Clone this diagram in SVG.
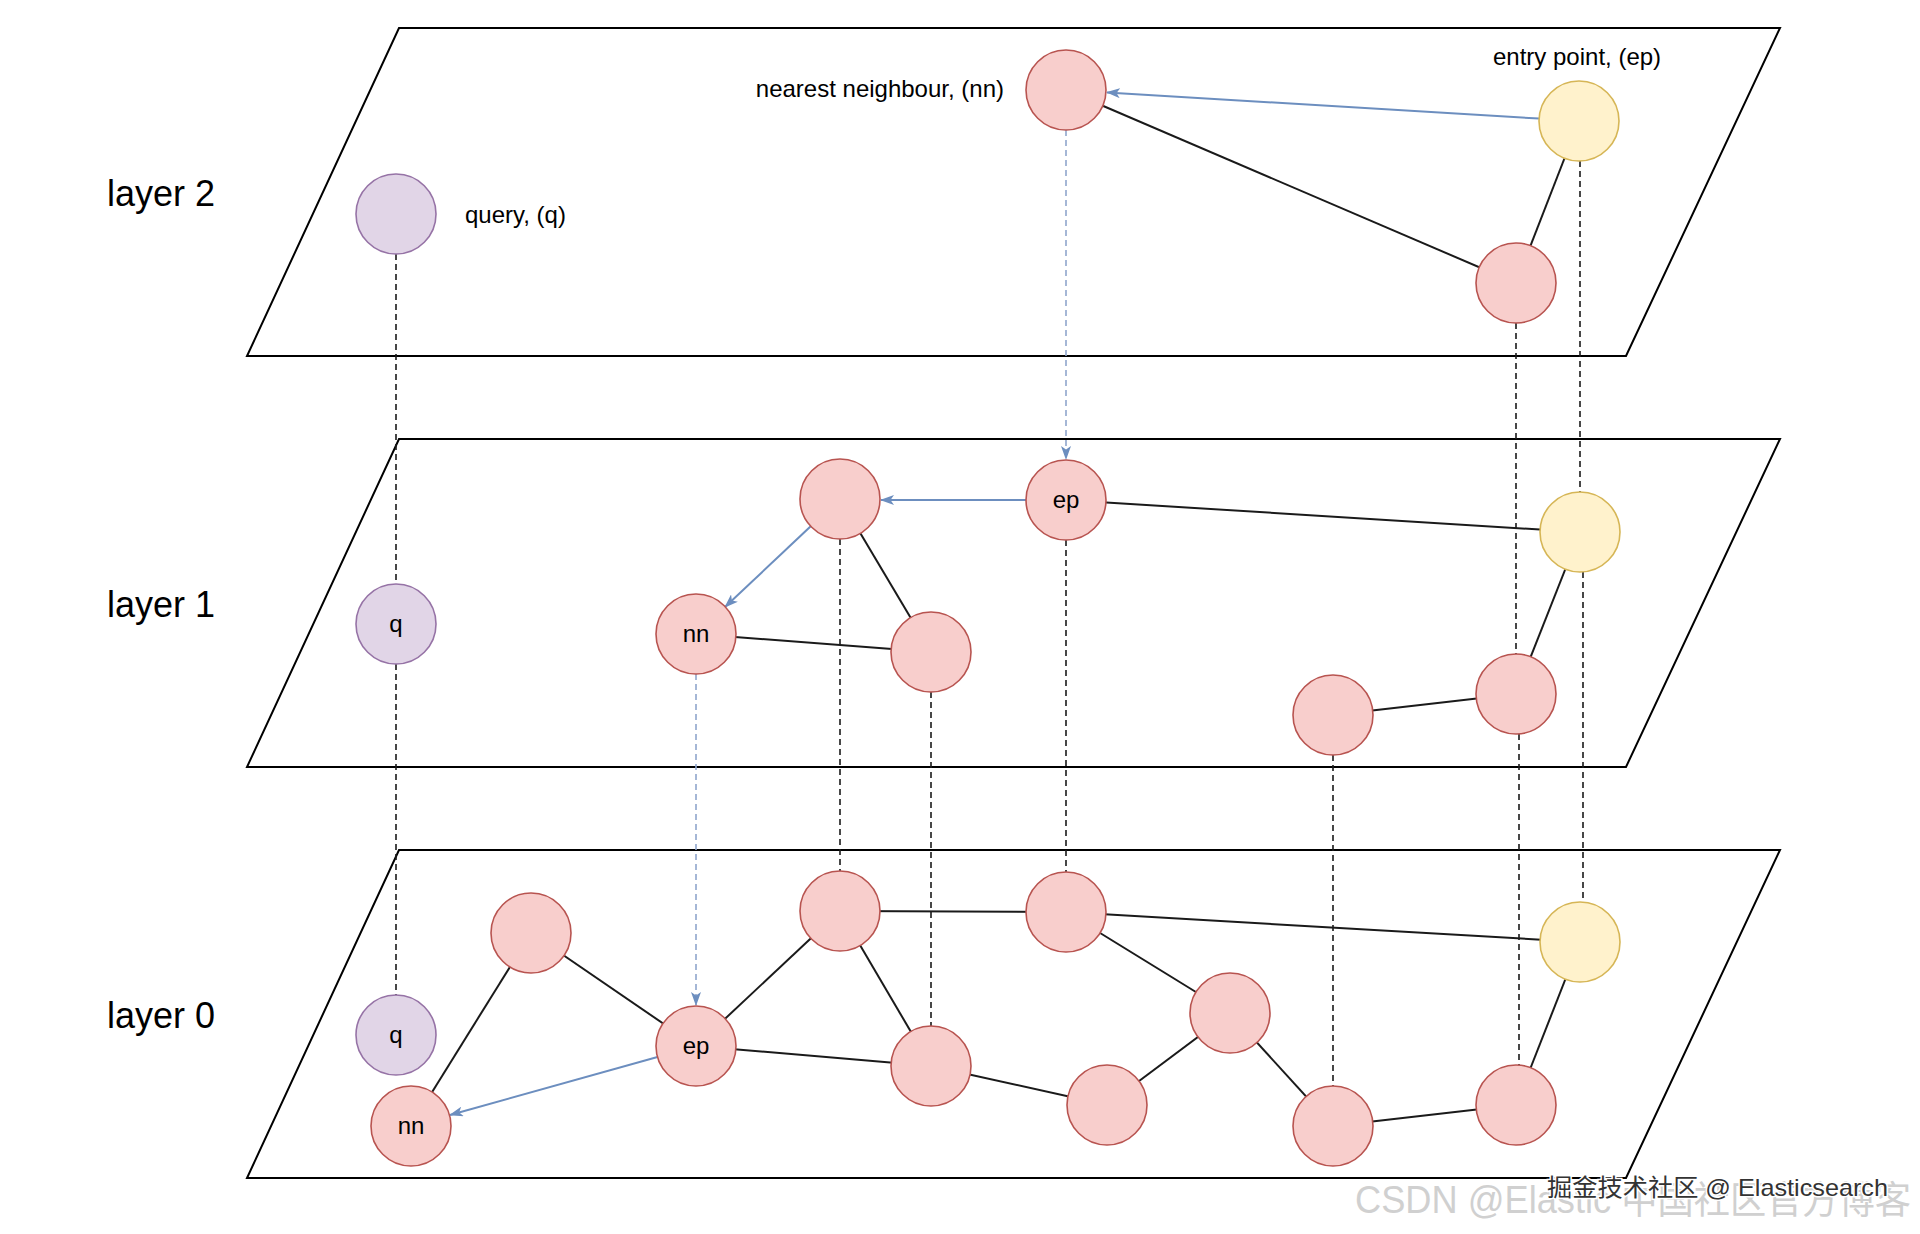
<svg xmlns="http://www.w3.org/2000/svg" width="1920" height="1234" viewBox="0 0 1920 1234">
<style>
.plane{fill:#ffffff;stroke:#000000;stroke-width:2}
.edge{stroke:#1a1a1a;stroke-width:2;fill:none}
.dash{stroke:#1a1a1a;stroke-width:1.6;stroke-dasharray:6 4;fill:none}
.ldash{stroke:#8fa6cc;stroke-width:1.6;stroke-dasharray:6 4;fill:none}
.arr{stroke:#6c8ebf;stroke-width:2;fill:none}
.red{fill:#f8cecc;stroke:#b85450;stroke-width:1.6}
.yel{fill:#fff2cc;stroke:#d6b656;stroke-width:1.6}
.pur{fill:#e1d5e7;stroke:#9673a6;stroke-width:1.6}
.lbl{font-family:"Liberation Sans",Arial,sans-serif;font-size:24px;fill:#000}
.nl{font-family:"Liberation Sans",Arial,sans-serif;font-size:24px;fill:#000;text-anchor:middle}
.lay{font-family:"Liberation Sans",Arial,sans-serif;font-size:36px;fill:#000}
</style>
<defs>
<marker id="ah" viewBox="0 0 14 10" refX="13" refY="5" markerWidth="14" markerHeight="10" markerUnits="userSpaceOnUse" orient="auto">
<path d="M0,0 L14,5 L0,10 L3.5,5 z" fill="#6c8ebf"/>
</marker>
</defs>
<rect width="1920" height="1234" fill="#ffffff"/>
<g id="planes">
<polygon id="plane2" class="plane" points="399,28 1780,28 1626,356 247,356"/>
<polygon id="plane1" class="plane" points="399,439 1780,439 1626,767 247,767"/>
<polygon id="plane0" class="plane" points="399,850 1780,850 1626,1178 247,1178"/>
</g>
<g id="layer-labels">
<text class="lay" x="107" y="206">layer 2</text>
<text class="lay" x="107" y="617">layer 1</text>
<text class="lay" x="107" y="1028">layer 0</text>
</g>
<g id="connectors">
<line class="dash" x1="396" y1="214" x2="396" y2="1035"/>
<line class="dash" x1="1516" y1="283" x2="1516" y2="694"/>
<line class="dash" x1="1519" y1="694" x2="1519" y2="1105"/>
<line class="dash" x1="1580" y1="121" x2="1580" y2="532"/>
<line class="dash" x1="1583" y1="572" x2="1583" y2="942"/>
<line class="dash" x1="840" y1="499" x2="840" y2="911"/>
<line class="dash" x1="931" y1="652" x2="931" y2="1066"/>
<line class="dash" x1="1066" y1="500" x2="1066" y2="912"/>
<line class="dash" x1="1333" y1="715" x2="1333" y2="1126"/>
<line class="ldash" x1="1066" y1="130" x2="1066" y2="459" marker-end="url(#ah)"/>
<line class="ldash" x1="696" y1="674" x2="696" y2="1005" marker-end="url(#ah)"/>
<line class="edge" x1="1066" y1="90" x2="1516" y2="283"/>
<line class="edge" x1="1579" y1="121" x2="1516" y2="283"/>
<line class="arr" x1="1539" y1="118.6" x2="1107" y2="92.4" marker-end="url(#ah)"/>
<line class="edge" x1="840" y1="499" x2="931" y2="652"/>
<line class="edge" x1="696" y1="634" x2="931" y2="652"/>
<line class="edge" x1="1066" y1="500" x2="1580" y2="532"/>
<line class="edge" x1="1580" y1="532" x2="1516" y2="694"/>
<line class="edge" x1="1333" y1="715" x2="1516" y2="694"/>
<line class="arr" x1="1026" y1="500" x2="881" y2="500" marker-end="url(#ah)"/>
<line class="arr" x1="811" y1="526" x2="725" y2="607" marker-end="url(#ah)"/>
<line class="edge" x1="531" y1="933" x2="411" y2="1126"/>
<line class="edge" x1="531" y1="933" x2="696" y2="1046"/>
<line class="edge" x1="696" y1="1046" x2="840" y2="911"/>
<line class="edge" x1="840" y1="911" x2="931" y2="1066"/>
<line class="edge" x1="696" y1="1046" x2="931" y2="1066"/>
<line class="edge" x1="840" y1="911" x2="1066" y2="912"/>
<line class="edge" x1="1066" y1="912" x2="1580" y2="942"/>
<line class="edge" x1="1066" y1="912" x2="1230" y2="1013"/>
<line class="edge" x1="931" y1="1066" x2="1107" y2="1105"/>
<line class="edge" x1="1107" y1="1105" x2="1230" y2="1013"/>
<line class="edge" x1="1230" y1="1013" x2="1333" y2="1126"/>
<line class="edge" x1="1333" y1="1126" x2="1516" y2="1105"/>
<line class="edge" x1="1580" y1="942" x2="1516" y2="1105"/>
<line class="arr" x1="657.5" y1="1057" x2="450" y2="1115" marker-end="url(#ah)"/>
</g>
<g id="node-q2"><circle class="pur" cx="396" cy="214" r="40"/></g>
<g id="node-nn2"><circle class="red" cx="1066" cy="90" r="40"/></g>
<g id="node-ep2"><circle class="yel" cx="1579" cy="121" r="40"/></g>
<g id="node-r2a"><circle class="red" cx="1516" cy="283" r="40"/></g>
<g id="node-q1"><circle class="pur" cx="396" cy="624" r="40"/><text class="nl" x="396" y="632">q</text></g>
<g id="node-r1a"><circle class="red" cx="840" cy="499" r="40"/></g>
<g id="node-ep1"><circle class="red" cx="1066" cy="500" r="40"/><text class="nl" x="1066" y="508">ep</text></g>
<g id="node-y1"><circle class="yel" cx="1580" cy="532" r="40"/></g>
<g id="node-nn1"><circle class="red" cx="696" cy="634" r="40"/><text class="nl" x="696" y="642">nn</text></g>
<g id="node-r1b"><circle class="red" cx="931" cy="652" r="40"/></g>
<g id="node-r1c"><circle class="red" cx="1516" cy="694" r="40"/></g>
<g id="node-r1d"><circle class="red" cx="1333" cy="715" r="40"/></g>
<g id="node-q0"><circle class="pur" cx="396" cy="1035" r="40"/><text class="nl" x="396" y="1043">q</text></g>
<g id="node-nn0"><circle class="red" cx="411" cy="1126" r="40"/><text class="nl" x="411" y="1134">nn</text></g>
<g id="node-r0a"><circle class="red" cx="531" cy="933" r="40"/></g>
<g id="node-ep0"><circle class="red" cx="696" cy="1046" r="40"/><text class="nl" x="696" y="1054">ep</text></g>
<g id="node-r0b"><circle class="red" cx="840" cy="911" r="40"/></g>
<g id="node-r0c"><circle class="red" cx="931" cy="1066" r="40"/></g>
<g id="node-r0d"><circle class="red" cx="1066" cy="912" r="40"/></g>
<g id="node-y0"><circle class="yel" cx="1580" cy="942" r="40"/></g>
<g id="node-r0e"><circle class="red" cx="1230" cy="1013" r="40"/></g>
<g id="node-r0f"><circle class="red" cx="1107" cy="1105" r="40"/></g>
<g id="node-r0g"><circle class="red" cx="1333" cy="1126" r="40"/></g>
<g id="node-r0h"><circle class="red" cx="1516" cy="1105" r="40"/></g>
<g id="annotations">
<text class="lbl" x="465" y="223">query, (q)</text>
<text class="lbl" x="1004" y="97" text-anchor="end">nearest neighbour, (nn)</text>
<text class="lbl" x="1493" y="65">entry point, (ep)</text>
</g>
<g id="watermark">
<text x="1355" y="1213" font-family="Liberation Sans, 'Noto Sans CJK SC', sans-serif" font-size="38" fill="#d0d0d0" textLength="556" lengthAdjust="spacingAndGlyphs">CSDN @Elastic 中国社区官方博客</text>
<text x="1547" y="1196" font-family="Liberation Sans, 'Noto Sans CJK SC', sans-serif" font-size="24" fill="#333333" stroke="#ffffff" stroke-width="3" paint-order="stroke" textLength="341" lengthAdjust="spacingAndGlyphs">掘金技术社区 @ Elasticsearch</text>
</g>
</svg>
